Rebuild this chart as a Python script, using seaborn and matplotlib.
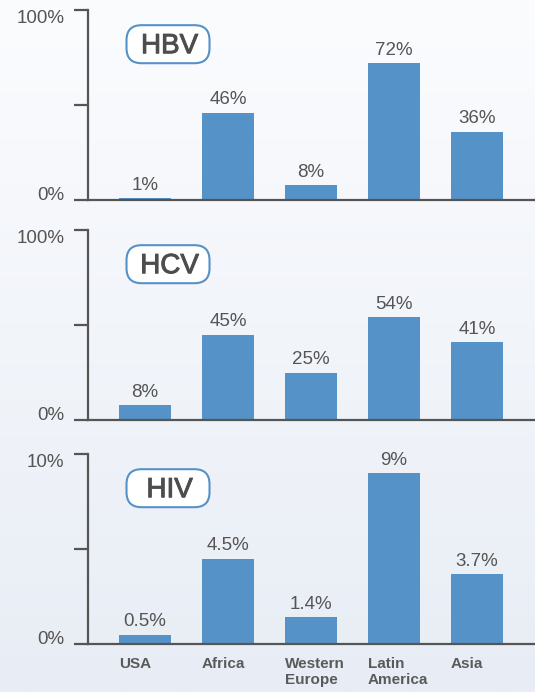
import numpy as np
import pandas as pd
import matplotlib
matplotlib.use("Agg")
import matplotlib.pyplot as plt
import matplotlib.transforms as mtransforms
import matplotlib.patheffects as pe
from matplotlib.patches import FancyBboxPatch
from matplotlib.colors import LinearSegmentedColormap
import seaborn as sns

# data
regions = ["USA", "Africa", "Western\nEurope", "Latin\nAmerica", "Asia"]
hbv = [1, 46, 8, 72, 36]
hcv = [8, 45, 25, 54, 41]
hiv = [0.5, 4.5, 1.4, 9, 3.7]
panel_names = ["HBV", "HCV", "HIV"]
panel_max = [100, 100, 10]

sns.set_style("white")
plt.rcParams["font.family"] = ["Liberation Sans", "DejaVu Sans"]

BAR = "#5592c8"
GREY = "#555555"
BAR_W = 0.627

fig = plt.figure(figsize=(5.35, 6.92), dpi=100)

# soft vertical gradient behind everything
bg = fig.add_axes([0, 0, 1, 1], zorder=-10)
grad = np.linspace(0, 1, 256).reshape(-1, 1)
cmap = LinearSegmentedColormap.from_list("bg", ["#fbfcfe", "#e8edf5"])
bg.imshow(grad, aspect="auto", cmap=cmap, extent=[0, 1, 0, 1])
bg.axis("off")

# axes boxes in pixels (top, bottom) of the 692 px tall picture
H = 692.0
panels = [(10, 200), (230, 420), (454, 644)]
left = 88 / 535

for k, (name, vals, ymax, (top, bot)) in enumerate(
        zip(panel_names, [hbv, hcv, hiv], panel_max, panels)):
    ax = fig.add_axes([left, 1 - bot / H, 1 - left, (bot - top) / H])
    ax.set_facecolor("none")
    df = pd.DataFrame({"region": regions, "value": vals})
    sns.barplot(data=df, x="region", y="value", ax=ax, color=BAR,
                saturation=1, width=BAR_W, errorbar=None, edgecolor="none")

    ax.set_xlim(-0.687, 4.699)
    ax.set_ylim(0, ymax)
    ax.set_yticks([0, ymax / 2, ymax], ["0%", "", f"{ymax:g}%"])
    ax.set_ylabel("")
    ax.set_xlabel("")
    sns.despine(ax=ax)
    for s in ["left", "bottom"]:
        ax.spines[s].set_color(GREY)
        ax.spines[s].set_linewidth(1.6)
    ax.tick_params(axis="y", left=True, length=10, width=1.6, color=GREY,
                   labelcolor=GREY, labelsize=13.5, pad=7)
    ylabels = ax.get_yticklabels()
    ylabels[0].set_verticalalignment("baseline")
    ylabels[2].set_verticalalignment("top")

    if k == 2:
        ax.set_xticks(np.arange(5) - BAR_W / 2, regions, ha="left",
                      fontweight="bold", fontsize=11, color="#5a5a5a")
        ax.tick_params(axis="x", length=0, pad=9)
    else:
        ax.set_xticks([])

    for i, v in enumerate(vals):
        ax.annotate(f"{v:g}%", xy=(i, v), xytext=(0, 3),
                    textcoords="offset points", ha="center", va="bottom",
                    fontsize=13.5, color=GREY)

    # rounded label box
    tr = fig.dpi_scale_trans + mtransforms.ScaledTranslation(0.179, 0.82, ax.transAxes)
    box = FancyBboxPatch((-0.415, -0.19), 0.83, 0.38,
                         boxstyle="round,pad=0,rounding_size=0.15",
                         transform=tr, facecolor="white", edgecolor=BAR,
                         linewidth=1.5, clip_on=False, zorder=5)
    ax.add_artist(box)
    ax.text(0.015, -0.09, name, transform=tr, ha="center", va="baseline",
            fontsize=20, color="#4d4d4d", zorder=6,
            path_effects=[pe.withStroke(linewidth=0.7, foreground="#4d4d4d")])

fig.savefig("out.png", dpi=100)
